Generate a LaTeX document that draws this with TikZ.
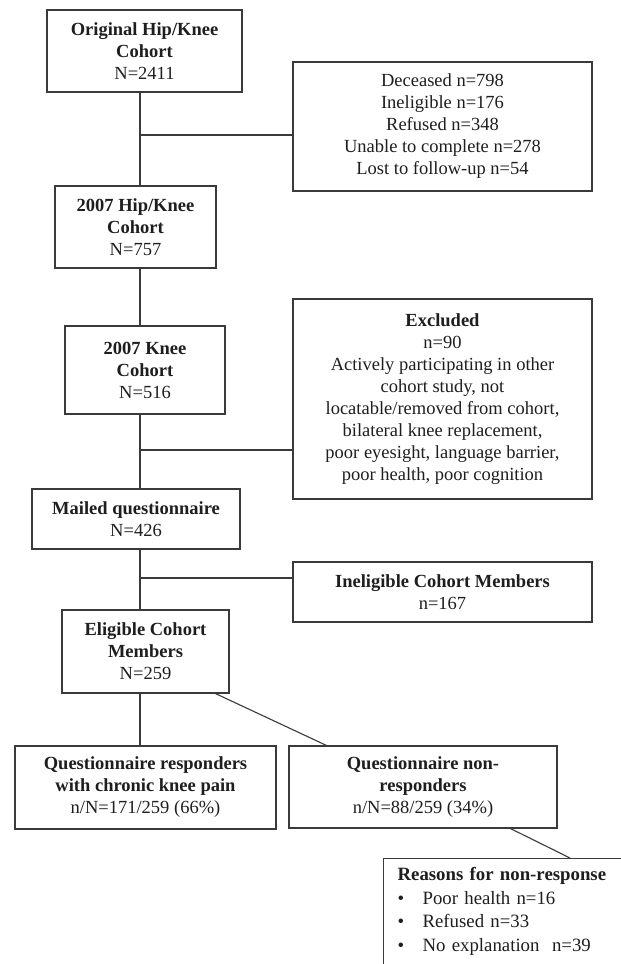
\documentclass[tikz,border=0pt]{standalone}
\usepackage{fontspec}
\setmainfont{Liberation Serif}
\usetikzlibrary{positioning, calc}
\definecolor{linegray}{HTML}{3A3A3A}
\definecolor{textgray}{HTML}{1E1E1E}

\tikzset{
  flowbox/.style 2 args={draw=linegray, line width=1.2pt, align=center, inner sep=0pt,
    minimum width=#1, minimum height=#2, text=textgray,
    font=\fontsize{18.5}{22}\selectfont},
  link/.style={draw=linegray, line width=1.1pt},
}

\begin{document}
\begin{tikzpicture}[x=1pt, y=-1pt]
      \useasboundingbox (0,0) rectangle (621,964);
      \clip (0,0) rectangle (621,964);
      % main column
      \node[flowbox={195pt}{82pt}] (orig) at (144.5,51) {\textbf{Original Hip/Knee}\\\textbf{Cohort}\\N=2411};
      \node[flowbox={161pt}{82pt}] (hk2007) at (135.5,227) {\textbf{2007 Hip/Knee}\\\textbf{Cohort}\\N=757};
      \node[flowbox={160pt}{88pt}] (knee2007) at (145,370) {\textbf{2007 Knee}\\\textbf{Cohort}\\N=516};
      \node[flowbox={208pt}{60pt}] (mailed) at (136,519) {\textbf{Mailed questionnaire}\\N=426};
      \node[flowbox={167pt}{83pt}] (elig) at (145.5,651.5) {\textbf{Eligible Cohort}\\\textbf{Members}\\N=259};
      \node[flowbox={261pt}{83pt}] (resp) at (145.5,787.5) {\textbf{Questionnaire responders}\\\textbf{with chronic knee pain}\\n/N=171/259 (66\%)};
      % side boxes
      \node[flowbox={299pt}{129pt}] (deceased) at (442.5,126.5) {Deceased n=798\\Ineligible n=176\\Refused n=348\\Unable to complete n=278\\Lost to follow-up n=54};
      \node[flowbox={299pt}{200pt}] (excluded) at (442.5,399) {\textbf{Excluded}\\n=90\\Actively participating in other\\cohort study, not\\locatable/removed from cohort,\\bilateral knee replacement,\\poor eyesight, language barrier,\\poor health, poor cognition};
      \node[flowbox={299pt}{60pt}] (inelig) at (442.5,592) {\textbf{Ineligible Cohort Members}\\n=167};
      \node[flowbox={268pt}{82pt}] (nonresp) at (423,787) {\textbf{Questionnaire non-}\\\textbf{responders}\\n/N=88/259 (34\%)};
      \node[draw=linegray, line width=1.2pt, anchor=north west, align=left, text=textgray,
        text width=230pt, inner xsep=14pt, inner ysep=9pt,
        font=\fontsize{18.8}{23.5}\selectfont] (reasons) at (383,858)
        {\textbf{Reasons for non-response}\\
         \makebox[25pt][l]{\textbullet}Poor health n=16\\
         \makebox[25pt][l]{\textbullet}Refused n=33\\
         \makebox[25pt][l]{\textbullet}No explanation\ \ n=39\\[2pt]};
      % trunk and branches
      \coordinate (trunk) at (140,0);
      \coordinate (j1) at (140,135);
      \coordinate (j2) at (140,450);
      \coordinate (j3) at (140,578);
      \draw[link] (orig.south -| trunk) -- (hk2007.north -| trunk);
      \draw[link] (hk2007.south -| trunk) -- (knee2007.north -| trunk);
      \draw[link] (knee2007.south -| trunk) -- (mailed.north -| trunk);
      \draw[link] (mailed.south -| trunk) -- (elig.north -| trunk);
      \draw[link] (elig.south -| trunk) -- (resp.north -| trunk);
      \draw[link] (j1) -- (j1 -| deceased.west);
      \draw[link] (j2) -- (j2 -| excluded.west);
      \draw[link] (j3) -- (j3 -| inelig.west);
      \draw[link] ($(elig.south east)+(-14,0)$) -- ($(nonresp.north west)+(38,0)$);
      \draw[link] ($(nonresp.south east)+(-47,0)$) -- ($(reasons.north west)+(187,0)$);
\end{tikzpicture}
\end{document}
